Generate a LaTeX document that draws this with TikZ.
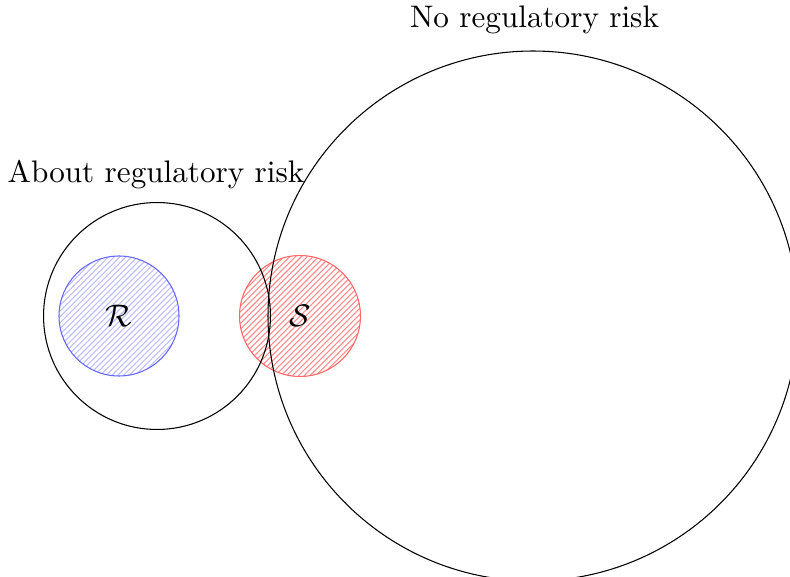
\documentclass[tikz,border=0pt]{standalone}
\begin{document}
\begin{tikzpicture}[x=0.7059pt,y=-0.7059pt,
  setc/.style={circle,draw=black,line width=0.75pt,inner sep=0pt},
  hatchc/.style={circle,line width=0.75pt,inner sep=0pt},
  lbl/.style={anchor=base,scale=2.2,inner sep=0pt},
  sym/.style={scale=2.2},
  hatchline/.style={line width=0.75pt}]
\path[use as bounding box] (0,0) rectangle (790,577);
\clip (0,0) rectangle (790,577);
% hatching of R
\begin{scope}
  \clip (119,316) circle (60);
  \foreach \k in {-16,...,16}
    \draw[hatchline,draw=blue!25] ({119+\k*5.8-75},391) -- ({119+\k*5.8+75},241);
\end{scope}
% hatching of S
\begin{scope}
  \clip (300,316) circle (60.5);
  \foreach \k in {-16,...,16}
    \draw[hatchline,draw=red!45] ({300+\k*5.8-75},391) -- ({300+\k*5.8+75},241);
\end{scope}
% hatched sets
\node[hatchc,draw=blue!60,minimum size=84.7pt] (R) at (119,316) {};
\node[hatchc,draw=red!60,minimum size=85.4pt] (S) at (300,316) {};
% big sets
\node[setc,minimum size=160.2pt] (about) at (157,316) {};
\node[setc,minimum size=374.1pt] (no) at (533,316) {};
% symbols
\node[sym] (Rl) at (R.center) {$\mathcal{R}$};
\node[sym] (Sl) at (S.center) {$\mathcal{S}$};
% labels
\node[lbl] (aboutl) at (156,182.3) {About regulatory risk};
\node[lbl] (nol) at (534.5,27.3) {No regulatory risk};
\end{tikzpicture}
\end{document}
